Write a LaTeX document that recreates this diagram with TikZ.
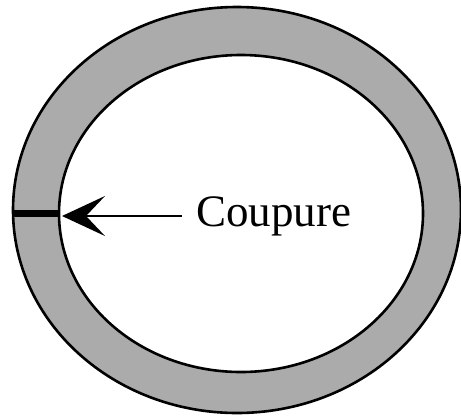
\documentclass[tikz,border=0pt]{standalone}
\usepackage{fontspec}
\setmainfont{Liberation Serif}
\usetikzlibrary{arrows.meta,positioning}

\begin{document}
\begin{tikzpicture}[
    x=1pt, y=-1pt,
    ring/.style={fill=black!33, even odd rule},
    rim/.style={draw=black, line width=2.6pt},
    cutbar/.style={line width=7pt, draw=black},
    label/.style={font=\fontsize{45}{50}\selectfont, inner xsep=14pt, inner ysep=0pt, anchor=west},
    arrow/.style={-{Stealth[length=43pt, width=40pt, inset=19pt]}, line width=2pt, draw=black}
]
    \useasboundingbox (0,0) rectangle (461,416);

    % ring
    \fill [ring] (237,210) ellipse [x radius=224, y radius=203]
                 (241,213.5) ellipse [x radius=182, y radius=158.5];
    \draw [rim] (237,210) ellipse [x radius=224, y radius=203];
    \draw [rim] (241,213.5) ellipse [x radius=182, y radius=158.5];

    \coordinate (outer) at (12,213);
    \coordinate (cut) at (60,213);
    \coordinate (tip) at (62,216);
    \draw [cutbar] (outer) -- (cut);

    \node (coupure) [label] at (182,216) {Coupure};
    \draw [arrow] (coupure.west) -- (tip);
\end{tikzpicture}
\end{document}
